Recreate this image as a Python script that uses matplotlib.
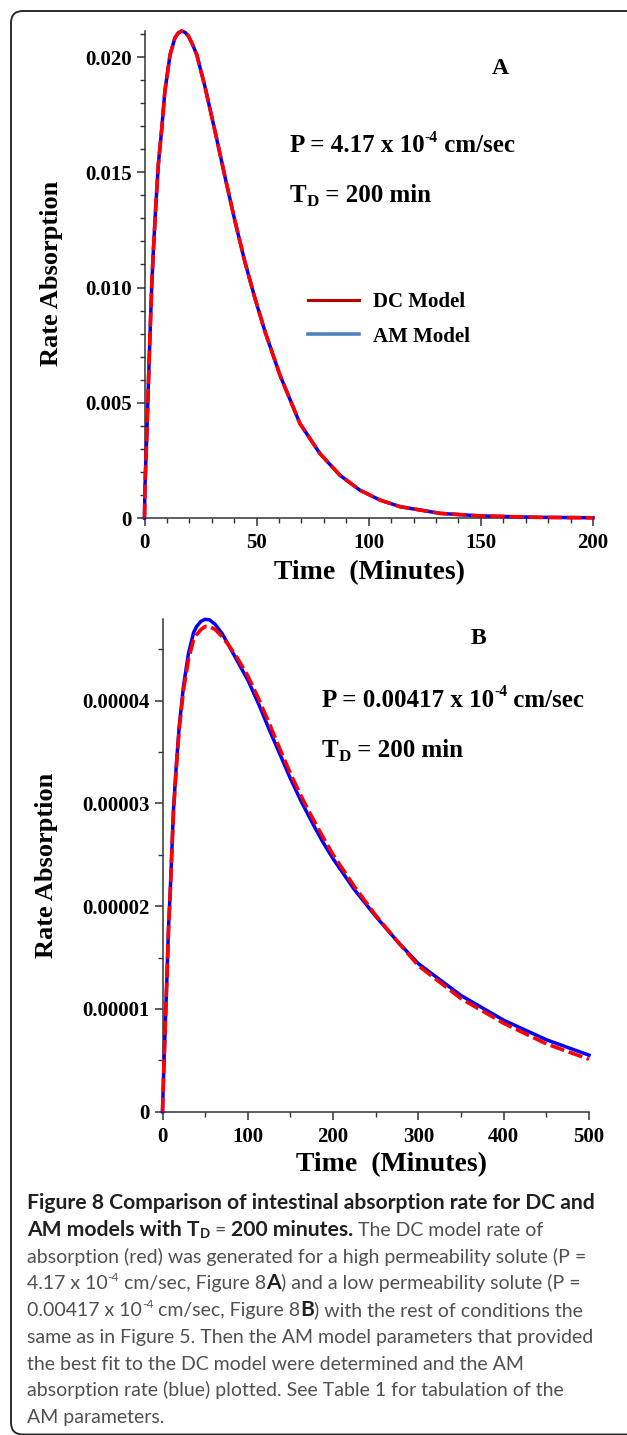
import matplotlib
matplotlib.use("Agg")
import matplotlib.pyplot as plt
from matplotlib.ticker import MultipleLocator
from matplotlib.patches import FancyBboxPatch
from matplotlib.lines import Line2D
from matplotlib.font_manager import FontProperties
from matplotlib.transforms import IdentityTransform

# ---- panel A : P = 4.17e-4 cm/sec ----
time_a = [0, 0.2, 1.0, 1.7, 2.4, 3.2, 3.9, 5.0, 6.2, 7.7, 9.1, 11.4, 13.6, 15.1,
          16.6, 18.1, 19.6, 21.4, 23.3, 27.0, 31.4, 35.9, 40.3, 44.8, 49.2, 53.7,
          60.4, 69.3, 78.2, 87.1, 96.0, 105.0, 114.0, 132.0, 150.0, 175.0, 200.0]
dc_a = [0, 0.00136, 0.0035, 0.0057, 0.0078, 0.0100, 0.0115, 0.01348, 0.01537,
        0.0169, 0.01853, 0.0201, 0.02084, 0.02105, 0.02113, 0.02107, 0.02091,
        0.02055, 0.0201, 0.0187, 0.0168, 0.0148, 0.0129, 0.0111, 0.00955, 0.0081,
        0.0062, 0.0041, 0.0028, 0.00186, 0.00121, 0.00078, 0.00049, 0.0002,
        0.00009, 0.00003, 0.00001]
am_a = [0, 0.00136, 0.0035, 0.0057, 0.0078, 0.0100, 0.0115, 0.01348, 0.01537,
        0.0169, 0.01853, 0.0201, 0.02084, 0.02105, 0.02113, 0.02107, 0.02091,
        0.02055, 0.0201, 0.0187, 0.0168, 0.0148, 0.0129, 0.0111, 0.00955, 0.0081,
        0.0062, 0.0041, 0.0028, 0.00186, 0.00121, 0.00078, 0.00049, 0.0002,
        0.00009, 0.00003, 0.00001]

# ---- panel B : P = 0.00417e-4 cm/sec (units of 1e-5) ----
time_b = [0, 1.2, 3.2, 5.2, 7.1, 9.0, 11.0, 12.9, 16.1, 19.6, 24.6, 30.5, 36.4,
          40.0, 45.0, 50.0, 55.0, 61.8, 70.0, 77.4, 88.0, 100, 112.5, 125, 137.5,
          150, 162.5, 175, 187.5, 200, 225, 250, 275, 300, 350, 400, 450, 500]
am_b = [0, 0.34, 0.83, 1.31, 1.80, 2.13, 2.55, 2.94, 3.36, 3.75, 4.14, 4.46, 4.66,
        4.72, 4.77, 4.79, 4.785, 4.74, 4.65, 4.54, 4.38, 4.20, 3.97, 3.72, 3.48,
        3.24, 3.02, 2.82, 2.63, 2.46, 2.16, 1.90, 1.66, 1.44, 1.13, 0.89, 0.70,
        0.55]
dc_b = [0, 0.34, 0.83, 1.31, 1.78, 2.12, 2.53, 2.92, 3.33, 3.72, 4.10, 4.40, 4.59,
        4.64, 4.69, 4.72, 4.72, 4.69, 4.62, 4.54, 4.41, 4.24, 4.02, 3.78, 3.53,
        3.29, 3.07, 2.87, 2.68, 2.50, 2.19, 1.91, 1.66, 1.42, 1.10, 0.86, 0.66,
        0.51]

xticks_a = [0, 50, 100, 150, 200]
yticks_a = [0, 0.005, 0.010, 0.015, 0.020]
yticklabels_a = ["0", "0.005", "0.010", "0.015", "0.020"]
xticks_b = [0, 100, 200, 300, 400, 500]
yticks_b = [0, 1, 2, 3, 4]
yticklabels_b = ["0", "0.00001", "0.00002", "0.00003", "0.00004"]

legend_labels = ["DC Model", "AM Model"]

caption = [
    [("Figure 8 Comparison of intestinal absorption rate for DC and", "b")],
    [("AM models with T", "b"), ("D", "b_"), (" = ", "n"), ("200 minutes.", "b"),
     (" The DC model rate of", "n")],
    [("absorption (red) was generated for a high permeability solute (P =", "n")],
    [("4.17 x 10", "n"), ("-4", "n^"), (" cm/sec, Figure 8", "n"), ("A", "b"),
     (") and a low permeability solute (P =", "n")],
    [("0.00417 x 10", "n"), ("-4", "n^"), (" cm/sec, Figure 8", "n"), ("B", "b"),
     (") with the rest of conditions the", "n")],
    [("same as in Figure 5. Then the AM model parameters that provided", "n")],
    [("the best fit to the DC model were determined and the AM", "n")],
    [("absorption rate (blue) plotted. See Table 1 for tabulation of the", "n")],
    [("AM parameters.", "n")],
]

W, H = 627, 1435
plt.rcParams["font.family"] = "Liberation Serif"
plt.rcParams["font.weight"] = "bold"

fig = plt.figure(figsize=(W / 100, H / 100), dpi=100)
renderer = fig.canvas.get_renderer()


def fx(px):
    return px / W


def fy(py):
    return 1 - py / H


def run_width(text, prop):
    a = renderer.get_text_width_height_descent("|" + text + "|", prop, False)[0]
    b = renderer.get_text_width_height_descent("||", prop, False)[0]
    return a - b


def put_runs(x0, base, runs, size, family, bold_col="black", norm_col="black", bold_scale=1.0):
    # draws a line made of differently styled pieces, left to right
    x = x0
    for text, style in runs:
        bold = style.startswith("b")
        s = size * (bold_scale if bold else 1.0)
        dy = 0.0
        if style.endswith("^"):
            s = size * 0.62
            dy = -0.42 * size * 100 / 72
        elif style.endswith("_"):
            s = size * 0.68
            dy = 0.14 * size * 100 / 72
        prop = FontProperties(family=family, weight="bold" if bold else "normal", size=s)
        fig.text(fx(x), fy(base + dy), text, fontproperties=prop,
                 color=bold_col if bold else norm_col, ha="left", va="baseline")
        x += run_width(text, prop)


# rounded frame around the whole figure
frame = FancyBboxPatch((11, 0.5), 700, H - 11.5, boxstyle="round,pad=0,rounding_size=12",
                       transform=IdentityTransform(), fill=False, ec="#2b2b2b", lw=1.4)
fig.patches.append(frame)


def style_axes(ax):
    for s in ["top", "right"]:
        ax.spines[s].set_visible(False)
    for s in ["left", "bottom"]:
        ax.spines[s].set_linewidth(1.1)
        ax.spines[s].set_color("#333333")
    ax.tick_params(which="major", length=6, width=1.1, color="#333333", labelsize=15)
    ax.tick_params(which="minor", length=3.3, width=1.0, color="#333333")
    ax.tick_params(axis="x", pad=5)
    ax.tick_params(axis="y", pad=3)


# ---------------- panel A ----------------
ax1 = fig.add_axes([fx(144.5), fy(518), (593 - 144.5) / W, (518 - 31) / H])
ax1.plot(time_a, am_a, color="#0000ff", lw=2.5, clip_on=False, zorder=3)
ax1.plot(time_a, dc_a, color="#ff0000", lw=2.6, dashes=(4, 1.3), clip_on=False, zorder=4)
ax1.set_xlim(0, 200)
ax1.set_ylim(0, 0.02113)
ax1.set_xticks(xticks_a)
ax1.set_yticks(yticks_a)
ax1.set_yticklabels(yticklabels_a)
ax1.xaxis.set_minor_locator(MultipleLocator(10))
ax1.yaxis.set_minor_locator(MultipleLocator(0.001))
style_axes(ax1)

handles = [Line2D([], [], color="#c00000", lw=2.2), Line2D([], [], color="#4f81bd", lw=2.6)]
ax1.legend(handles, legend_labels, loc="upper left", bbox_to_anchor=(fx(308), fy(292)),
           bbox_transform=fig.transFigure, frameon=False, borderpad=0, borderaxespad=0,
           handlelength=2.45, handletextpad=0.67, labelspacing=0.7,
           prop={"family": "Liberation Serif", "weight": "bold", "size": 15})

fig.text(fx(52), fy(273), "Rate Absorption", rotation=90, ha="center", va="center", fontsize=19)
fig.text(fx(369), fy(573), "Time  (Minutes)", ha="center", va="center", fontsize=20)
fig.text(fx(500), fy(68), "A", ha="center", va="center", fontsize=17)
put_runs(290, 152, [("P = 4.17 x 10", "b"), ("-4", "b^"), (" cm/sec", "b")], 18, "Liberation Serif")
put_runs(290, 202, [("T", "b"), ("D", "b_"), (" = 200 min", "b")], 18, "Liberation Serif")

# ---------------- panel B ----------------
ax2 = fig.add_axes([fx(162.5), fy(1111.7), (589 - 162.5) / W, (1111.7 - 619.3) / H])
ax2.plot(time_b, am_b, color="#0000ff", lw=2.5, clip_on=False, zorder=3)
ax2.plot(time_b, dc_b, color="#ff0000", lw=2.6, dashes=(4, 1.3), clip_on=False, zorder=4)
ax2.set_xlim(0, 500)
ax2.set_ylim(0, 4.79)
ax2.set_xticks(xticks_b)
ax2.set_yticks(yticks_b)
ax2.set_yticklabels(yticklabels_b)
ax2.xaxis.set_minor_locator(MultipleLocator(50))
ax2.yaxis.set_minor_locator(MultipleLocator(0.5))
style_axes(ax2)

fig.text(fx(47), fy(865), "Rate Absorption", rotation=90, ha="center", va="center", fontsize=19)
fig.text(fx(391), fy(1165), "Time  (Minutes)", ha="center", va="center", fontsize=20)
fig.text(fx(478), fy(638), "B", ha="center", va="center", fontsize=17)
put_runs(322, 707, [("P = 0.00417 x 10", "b"), ("-4", "b^"), (" cm/sec", "b")], 18, "Liberation Serif")
put_runs(322, 757, [("T", "b"), ("D", "b_"), (" = 200 min", "b")], 18, "Liberation Serif")

# ---------------- caption ----------------
for i, line in enumerate(caption):
    put_runs(27, 1209 + i * 26.75, line, 14, "Lato", bold_col="#231f20", norm_col="#505052",
             bold_scale=1.09)

fig.savefig("out.png", dpi=100)
